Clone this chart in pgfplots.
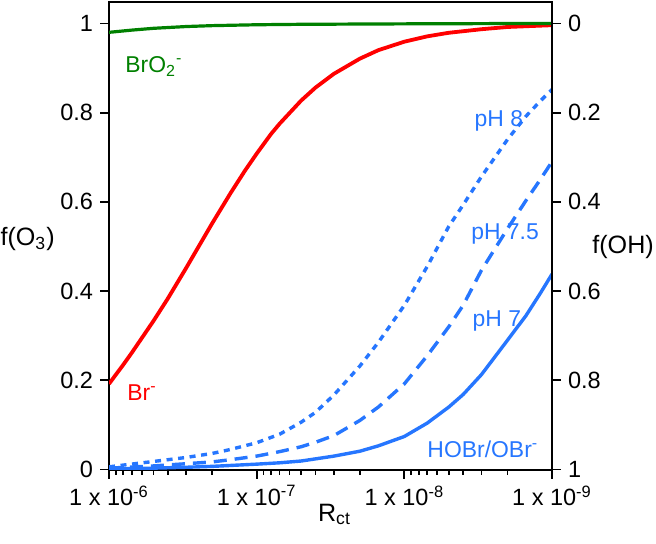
\documentclass[border=0pt]{standalone}
\usepackage{pgfplots}
\pgfplotsset{compat=1.18}
\usepackage{fontspec}
\setmainfont{Liberation Sans}
\definecolor{cred}{RGB}{255,0,0}
\definecolor{cgreen}{RGB}{0,128,0}
\definecolor{cblue}{RGB}{38,118,255}
\newcommand{\lbl}{\fontsize{12.6}{14}\selectfont}
\begin{document}
\begin{tikzpicture}
\path[use as bounding box] (-54.5bp,-37.25bp) rectangle (273.5bp,234.75bp);
\begin{axis}[
  scale only axis, width=221.5bp, height=233.75bp,
  xmode=log, x dir=reverse, xmin=1e-9, xmax=1e-6,
  ymin=0, ymax=1.048,
  tick align=outside,
  major tick length=4.5bp, minor tick length=2.6bp,
  every tick/.append style={black, line width=0.9bp},
  axis line style={line width=1bp},
  tick label style={font=\fontsize{11.8}{13}\selectfont},
  axis lines=box,
  xtick pos=bottom, ytick pos=left,
  xtick={1e-6,1e-7,1e-8,1e-9},
  xticklabels={1 x 10\textsuperscript{-6},1 x 10\textsuperscript{-7},1 x 10\textsuperscript{-8},1 x 10\textsuperscript{-9}},
  minor xtick={2e-9,3e-9,4e-9,5e-9,6e-9,7e-9,8e-9,9e-9,2e-8,3e-8,4e-8,5e-8,6e-8,7e-8,8e-8,9e-8,2e-7,3e-7,4e-7,5e-7,6e-7,7e-7,8e-7,9e-7},
  ytick={0,0.2,0.4,0.6,0.8,1},
  yticklabels={0,0.2,0.4,0.6,0.8,1},
  xlabel={\lbl R\textsubscript{ct}},
  xlabel style={at={(rel axis cs:0.5,0)}, anchor=base, yshift=-25.75bp, xshift=2bp, inner sep=0pt},
  ylabel={\lbl f(O\textsubscript{3})},
  ylabel style={at={(axis cs:1e-6,0.502)}, rotate=-90, anchor=base east, xshift=-27bp, inner sep=0pt},
]
% Br- (red)
\addplot[cred, line width=1.9bp] coordinates {
(1e-6,0.192) (8e-7,0.235) (7e-7,0.262) (5e-7,0.333) (4e-7,0.383) (3e-7,0.452)
(2.5e-7,0.497) (2e-7,0.552) (1.5e-7,0.620) (1.2e-7,0.670)
(1e-7,0.708) (8e-8,0.752) (7e-8,0.775) (5e-8,0.827) (4e-8,0.856) (3e-8,0.887)
(2e-8,0.921) (1.5e-8,0.940) (1e-8,0.959) (7e-9,0.971)
(5e-9,0.979) (3e-9,0.987) (2e-9,0.992) (1e-9,0.996)};
% BrO2- (green)
\addplot[cgreen, line width=1.6bp] coordinates {
(1e-6,0.980) (7e-7,0.985) (5e-7,0.989) (3e-7,0.993) (2e-7,0.995) (1e-7,0.997)
(5e-8,0.998) (1e-8,0.999) (1e-9,1.000)};
% pH 8 dotted
\addplot[cblue, line width=1.7bp, dash pattern=on 3bp off 2.8bp] coordinates {
(1e-6,0.006) (5e-7,0.018) (3e-7,0.027) (2e-7,0.036) (1.5e-7,0.045) (1e-7,0.060)
(7e-8,0.079) (5e-8,0.106) (4e-8,0.128) (3e-8,0.167)
(2e-8,0.232) (1.5e-8,0.285) (1e-8,0.368) (7e-9,0.455) (5e-9,0.545) (4e-9,0.593)
(3e-9,0.657) (2e-9,0.740) (1.5e-9,0.792) (1.2e-9,0.826) (1e-9,0.852)};
% pH 7.5 dashed
\addplot[cblue, line width=1.7bp, dash pattern=on 6.5bp off 4bp] coordinates {
(1e-6,0.003) (5e-7,0.008) (3e-7,0.013) (2e-7,0.017) (1.5e-7,0.022) (1e-7,0.030)
(7e-8,0.040) (5e-8,0.051) (4e-8,0.061) (3e-8,0.076)
(2e-8,0.110) (1.5e-8,0.140) (1e-8,0.192) (7e-9,0.255) (5e-9,0.320) (4e-9,0.368)
(3e-9,0.447) (2e-9,0.540) (1.5e-9,0.603) (1.2e-9,0.650) (1e-9,0.690)};
% pH 7 solid
\addplot[cblue, line width=1.7bp] coordinates {
(1e-6,0.001) (5e-7,0.003) (3e-7,0.005) (2e-7,0.007) (1e-7,0.012) (7e-8,0.015)
(5e-8,0.019) (3e-8,0.030)
(2e-8,0.041) (1.5e-8,0.053) (1e-8,0.074) (7e-9,0.104) (5e-9,0.140) (4e-9,0.168)
(3e-9,0.213) (2e-9,0.290) (1.5e-9,0.345) (1.2e-9,0.395) (1e-9,0.438)};
\node[cgreen, anchor=base west, font=\fontsize{11.5}{13}\selectfont, inner sep=0pt] at (axis cs:7.8e-7,0.89) {BrO\textsubscript{2}\textsuperscript{-}};
\node[cred, anchor=base west, font=\fontsize{11.5}{13}\selectfont, inner sep=0pt] at (axis cs:7.55e-7,0.155) {Br\textsuperscript{-}};
\node[cblue, font=\fontsize{11.5}{13}\selectfont, inner sep=0pt] at (axis cs:2.29e-9,0.782) {pH 8};
\node[cblue, font=\fontsize{11.5}{13}\selectfont, inner sep=0pt] at (axis cs:2.08e-9,0.528) {pH 7.5};
\node[cblue, font=\fontsize{11.5}{13}\selectfont, inner sep=0pt] at (axis cs:2.36e-9,0.333) {pH 7};
\node[cblue, anchor=base, font=\fontsize{11.5}{13}\selectfont, inner sep=0pt] at (axis cs:2.94e-9,0.027) {HOBr/OBr\textsuperscript{-}};
\end{axis}
\begin{axis}[
  scale only axis, width=221.5bp, height=233.75bp,
  xmode=log, x dir=reverse, xmin=1e-9, xmax=1e-6,
  ymin=-0.048, ymax=1, y dir=reverse,
  tick align=outside,
  major tick length=4.5bp,
  every tick/.append style={black, line width=0.9bp},
  axis line style={line width=1bp},
  tick label style={font=\fontsize{11.8}{13}\selectfont},
  axis x line=none,
  axis y line*=right,
  ytick={0,0.2,0.4,0.6,0.8,1},
  yticklabels={0,0.2,0.4,0.6,0.8,1},
  ylabel={\lbl f(OH)},
  ylabel style={at={(axis cs:1e-9,0.501)}, rotate=-90, anchor=west, xshift=20bp, inner sep=0pt},
]
\addplot[draw=none] coordinates {(1e-6,0) (1e-9,1)};
\end{axis}
\end{tikzpicture}
\end{document}
